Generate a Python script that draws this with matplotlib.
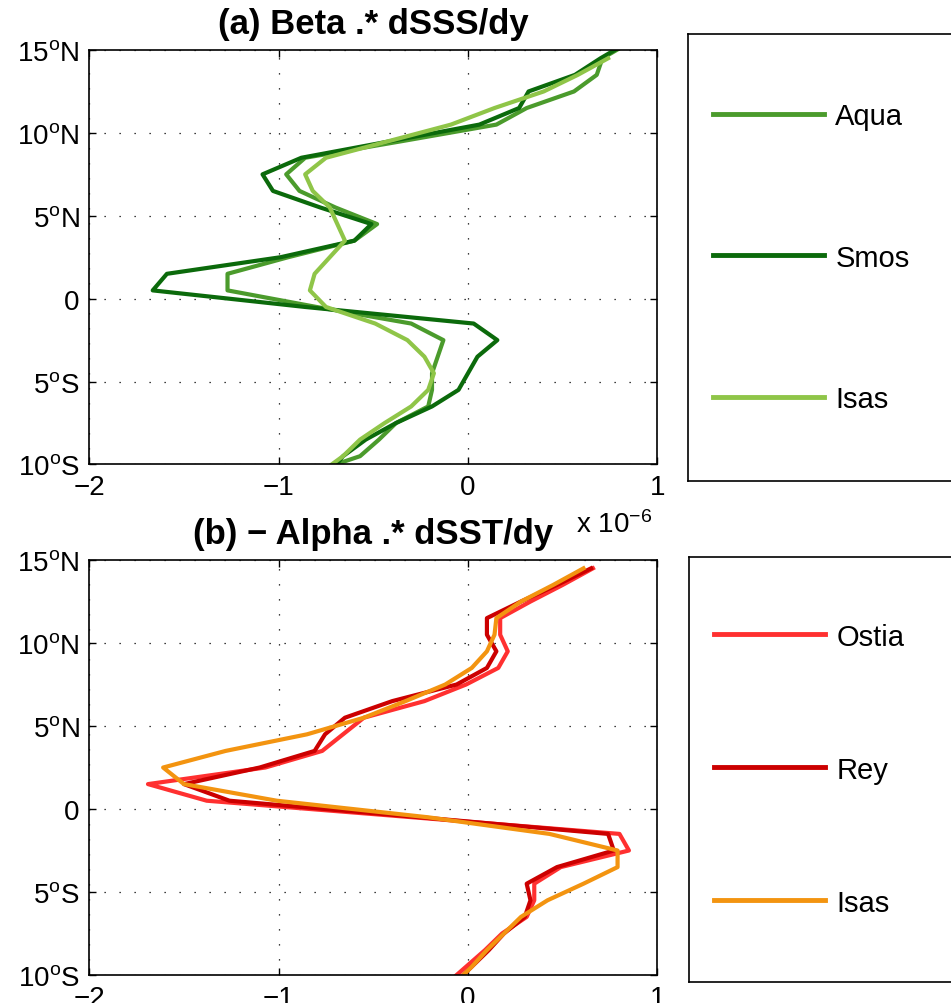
import numpy as np
import matplotlib
matplotlib.use('Agg')
import matplotlib.pyplot as plt
from matplotlib.lines import Line2D

plt.rcParams['font.family'] = ['Liberation Sans', 'DejaVu Sans']
plt.rcParams['mathtext.fontset'] = 'custom'
plt.rcParams['mathtext.rm'] = 'Liberation Sans'
plt.rcParams['mathtext.it'] = 'Liberation Sans:italic'
plt.rcParams['mathtext.bf'] = 'Liberation Sans:bold'

# latitudes (band centres, degrees)
lat_a = [15.5, 14.5, 13.5, 12.5, 11.5, 10.5, 9.5, 8.5, 7.5, 6.5, 5.5, 4.5, 3.5,
         2.5, 1.5, 0.5, -0.5, -1.5, -2.5, -3.5, -4.5, -5.5, -6.5, -7.5, -8.5,
         -9.5, -10.5]
lat_isas_a = lat_a[1:]
lat_b = lat_a[1:]

# (a) Beta .* dSSS/dy   (x 1e-6)
aqua = [0.86, 0.71, 0.68, 0.56, 0.31, 0.15, -0.35, -0.86, -0.96, -0.89, -0.70,
        -0.48, -0.60, -0.95, -1.27, -1.27, -0.80, -0.30, -0.13, -0.16, -0.19,
        -0.19, -0.21, -0.38, -0.47, -0.57, -0.83]
smos = [0.85, 0.70, 0.565, 0.32, 0.27, 0.06, -0.41, -0.88, -1.085, -1.03, -0.78,
        -0.51, -0.60, -0.99, -1.59, -1.665, -0.86, 0.03, 0.155, 0.05, 0.00,
        -0.05, -0.19, -0.38, -0.54, -0.66, -0.73]
isas_a = [0.74, 0.58, 0.40, 0.14, -0.09, -0.42, -0.75, -0.86, -0.82, -0.73,
          -0.69, -0.65, -0.73, -0.81, -0.835, -0.75, -0.49, -0.32, -0.23, -0.18,
          -0.21, -0.30, -0.44, -0.57, -0.66, -0.78]

# (b) - Alpha .* dSST/dy   (x 1e-6)
ostia = [0.66, 0.50, 0.33, 0.17, 0.17, 0.21, 0.16, -0.01, -0.23, -0.55, -0.66,
         -0.77, -1.07, -1.69, -1.38, -0.29, 0.80, 0.85, 0.49, 0.35, 0.35, 0.31,
         0.18, 0.09, -0.01, -0.11]
rey = [0.65, 0.47, 0.28, 0.10, 0.10, 0.15, 0.10, -0.06, -0.40, -0.65, -0.755,
       -0.81, -1.10, -1.50, -1.26, -0.25, 0.74, 0.77, 0.47, 0.31, 0.33, 0.30,
       0.19, 0.11, 0.02, -0.07]
isas_b = [0.61, 0.45, 0.28, 0.15, 0.14, 0.10, 0.02, -0.12, -0.33, -0.55, -0.85,
          -1.28, -1.61, -1.50, -1.01, -0.21, 0.43, 0.79, 0.79, 0.61, 0.42, 0.28,
          0.19, 0.10, 0.02, -0.07]

yticks = [-10, -5, 0, 5, 10, 15]
ytick_labels = [r'10$^{\rm o}$S', r'5$^{\rm o}$S', '0', r'5$^{\rm o}$N',
                r'10$^{\rm o}$N', r'15$^{\rm o}$N']
xticks = [-2, -1, 0, 1]

c_aqua, c_smos, c_isas_a = '#4b9b2c', '#0b6a0b', '#8fc548'
c_ostia, c_rey, c_isas_b = '#ff3030', '#cc0000', '#f39410'

fig = plt.figure(figsize=(9.51, 10.04), dpi=100)


def style_axes(ax, title):
    ax.set_xlim(-2, 1)
    ax.set_ylim(-10, 15)
    ax.set_xticks(xticks)
    ax.set_yticks(yticks)
    ax.set_yticklabels(ytick_labels)
    ax.tick_params(direction='in', top=True, right=True, length=5, width=1,
                   labelsize=20, pad=7)
    ax.grid(True, color='black', linestyle=(0, (1, 11)), linewidth=0.9)
    for s in ax.spines.values():
        s.set_linewidth(1.2)
    ax.set_title(title, fontsize=25, fontweight='bold', pad=12)


def legend_box(rect, handles, labels, spacing):
    lax = fig.add_axes(rect)
    lax.set_xticks([])
    lax.set_yticks([])
    for s in lax.spines.values():
        s.set_linewidth(1.2)
    lax.legend(handles, labels, loc='center left', bbox_to_anchor=(0.075, 0.5),
               frameon=False, fontsize=21, handlelength=3.8, handletextpad=0.4,
               labelspacing=spacing, borderpad=0, borderaxespad=0)


# panel (a)
ax1 = fig.add_axes([0.0939, 0.5364, 0.5973, 0.4128])
ax1.plot(aqua, lat_a, color=c_aqua, lw=3)
ax1.plot(smos, lat_a, color=c_smos, lw=3)
ax1.plot(isas_a, lat_isas_a, color=c_isas_a, lw=3)
style_axes(ax1, '(a) Beta .* dSSS/dy')
fig.text(0.606, 0.469, r'x 10$^{-6}$', fontsize=20, va='baseline')

legend_box([0.7234, 0.5199, 0.35, 0.4452],
           [Line2D([], [], color=c, lw=3.5) for c in (c_aqua, c_smos, c_isas_a)],
           ['Aqua', 'Smos', 'Isas'], 3.9)

# panel (b)
ax2 = fig.add_axes([0.0939, 0.0279, 0.5973, 0.4133])
ax2.plot(ostia, lat_b, color=c_ostia, lw=3)
ax2.plot(rey, lat_b, color=c_rey, lw=3)
ax2.plot(isas_b, lat_b, color=c_isas_b, lw=3)
style_axes(ax2, '(b) \u2212 Alpha .* dSST/dy')

legend_box([0.7245, 0.0209, 0.35, 0.4233],
           [Line2D([], [], color=c, lw=3.5) for c in (c_ostia, c_rey, c_isas_b)],
           ['Ostia', 'Rey', 'Isas'], 3.6)

fig.savefig('out.png', dpi=100)
